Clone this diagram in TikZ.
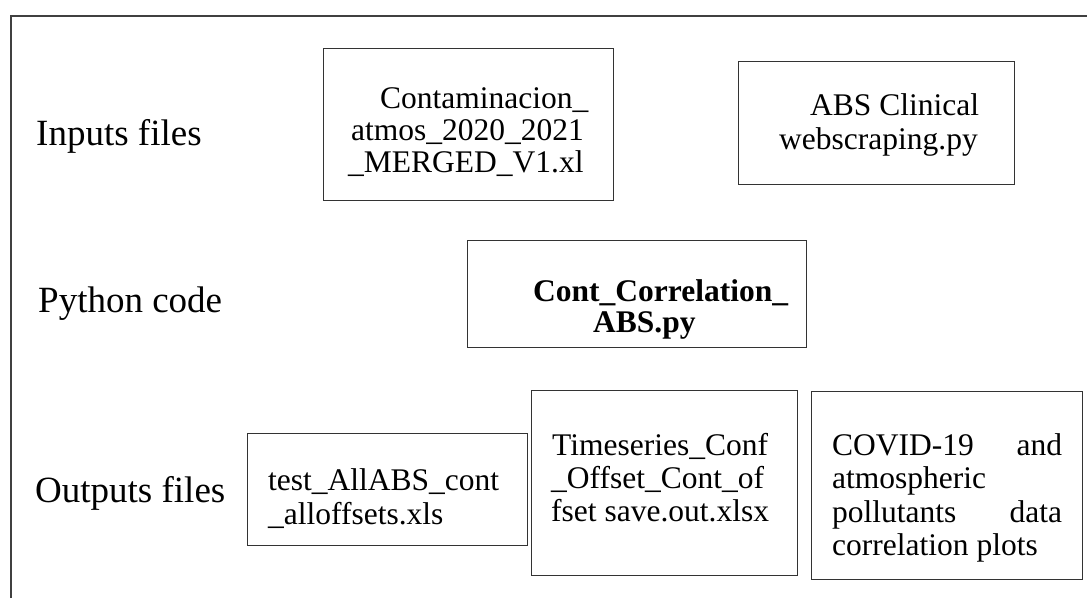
\documentclass[tikz,border=0pt]{standalone}
\usepackage{fontspec}
\setmainfont{Liberation Serif}
\newcommand\filefont{\fontsize{31.5pt}{33pt}\selectfont}
\newcommand\rowfont{\fontsize{37pt}{40pt}\selectfont}
\tikzset{
  filebox/.style={draw=black!80, line width=1.3pt, inner sep=0pt, anchor=north west},
  filetext/.style={inner sep=0pt, anchor=base west, font=\filefont},
  rowlabel/.style={inner sep=0pt, anchor=base west, font=\rowfont},
  frameline/.style={draw=black!75, line width=1.3pt}
}
\begin{document}
\begin{tikzpicture}[x=1pt, y=-1pt]
\useasboundingbox (0,0) rectangle (1087,598);

% open frame: top and left edges
\draw[frameline] (11,598) -- (11,16) -- (1087,16);

% row labels
\node[rowlabel] (lin)  at (36,145) {Inputs files};
\node[rowlabel] (lpy)  at (38,312) {Python code};
\node[rowlabel] (lout) at (35,502) {Outputs files};

% input files
\node[filebox, minimum width=290pt, minimum height=152pt] (inA) at (323,48) {};
\node[filetext] (inAtext) at (348,108) {\vtop{\baselineskip=32pt
  \hbox{\kern32pt Contaminacion\_}
  \hbox{\kern3pt atmos\_2020\_2021}
  \hbox{\_MERGED\_V1.xl}}};

\node[filebox, minimum width=276pt, minimum height=123pt] (inB) at (738,61) {};
\node[filetext] (inBtext) at (779,115) {\vtop{\baselineskip=34pt
  \hbox{\kern31pt ABS Clinical}
  \hbox{webscraping.py}}};

% python code
\node[filebox, minimum width=339pt, minimum height=107pt] (code) at (467,240) {};
\node[filetext, font=\filefont\bfseries] (codetext) at (533,301) {\vtop{\baselineskip=31pt
  \hbox{Cont\_Correlation\_}
  \hbox{\kern60pt ABS.py}}};

% output files
\node[filebox, minimum width=280pt, minimum height=112pt] (outA) at (247,433) {};
\node[filetext] (outAtext) at (268,490) {\vtop{\baselineskip=34pt
  \hbox{test\_AllABS\_cont}
  \hbox{\_alloffsets.xls}}};

\node[filebox, minimum width=266pt, minimum height=185pt] (outB) at (531,390) {};
\node[filetext] (outBtext) at (551,455) {\vtop{\baselineskip=33.3pt
  \hbox{\kern1pt Timeseries\_Conf}
  \hbox{\_Offset\_Cont\_of}
  \hbox{fset save.out.xlsx}}};

\node[filebox, minimum width=271pt, minimum height=188pt] (outC) at (811,391) {};
\node[filetext] (outCtext) at (832,455) {\vtop{\baselineskip=33.5pt
  \hbox to 230pt{COVID-19\hfill and}
  \hbox{atmospheric}
  \hbox to 230pt{pollutants\hfill data}
  \hbox{correlation plots}}};
\end{tikzpicture}
\end{document}
